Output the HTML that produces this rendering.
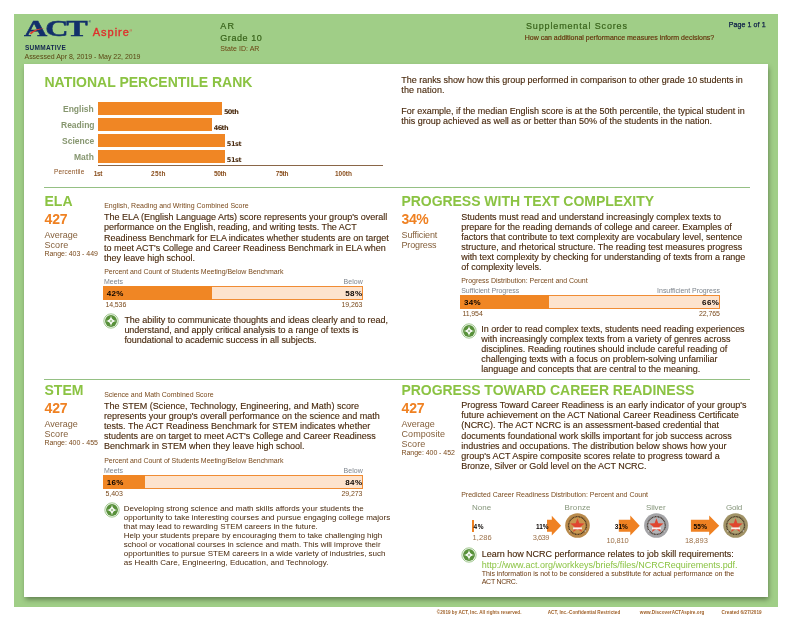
<!DOCTYPE html>
<html lang="en">
<head>
<meta charset="utf-8">
<title>ACT Aspire Supplemental Scores</title>
<style>
html,body{margin:0;padding:0;background:#fff;}
body{width:792px;height:622px;position:relative;overflow:hidden;font-family:"Liberation Sans",sans-serif;}
#frame{position:absolute;left:14px;top:14px;width:764px;height:592.5px;background:#a0ce87;}
#panel{position:absolute;left:24px;top:64px;width:744px;height:533px;background:#fff;box-shadow:0.6px 2.8px 5px rgba(20,30,10,.45);}
.t{position:absolute;white-space:pre;line-height:10px;height:10px;font-family:"Liberation Sans",sans-serif;}
.hr{position:absolute;left:44px;width:706px;height:1px;background:#95c084;}
.bar{position:absolute;height:12.5px;background:#f08624;}
.pb{position:absolute;box-sizing:border-box;width:260px;height:13.4px;background:#fde3cd;border:1.1px solid #f08c34;}
.pb i{position:absolute;left:-1.1px;top:-1.1px;height:13.4px;background:#f08624;display:block;}
svg{position:absolute;overflow:visible;}
#act{position:absolute;left:23.6px;top:15px;font:bold 23px/28px "Liberation Serif",serif;color:#12306b;transform-origin:0 0;transform:scaleX(1.40);white-space:pre;letter-spacing:-1.5px;-webkit-text-stroke:0.45px #12306b;}
.s{-webkit-text-stroke:0.12px currentColor;}
</style>
</head>
<body>
<div id="frame"></div>
<div id="panel"></div>

<!-- logo -->
<div id="act">ACT</div>
<svg width="30" height="12" style="left:28px;top:25px" viewBox="0 0 30 12"><path d="M1.5 8.2 C5 4.6 10 3.2 16.5 3.4 C11 4 6.5 5.6 3.2 9.2 Z" fill="#e23a2e"/></svg>

<!-- percentile chart -->
<div class="bar" style="left:98px;top:102.1px;width:124px"></div>
<div class="bar" style="left:98px;top:118.1px;width:114px"></div>
<div class="bar" style="left:98px;top:134.1px;width:126.7px"></div>
<div class="bar" style="left:98px;top:150.1px;width:126.7px"></div>
<div style="position:absolute;left:98px;top:164.8px;width:284.5px;height:1.1px;background:#8a6648"></div>

<!-- separators -->
<div class="hr" style="top:187px"></div>
<div class="hr" style="top:379px"></div>

<!-- progress bars -->
<div class="pb" style="left:103px;top:286.3px"><i style="width:109.4px"></i></div>
<div class="pb" style="left:103px;top:475.3px"><i style="width:41.8px"></i></div>
<div class="pb" style="left:460px;top:295.3px"><i style="width:88.6px"></i></div>

<!-- info icons -->

<svg width="16" height="16" style="left:103.4px;top:313.4px" viewBox="-8 -8 16 16"><g><circle r="7.15" fill="#fff" stroke="#6aa84f" stroke-width="0.65"/><circle r="5.95" fill="#58913a"/><path d="M0 -5.4 Q0.4 -0.4 5.4 0 Q0.4 0.4 0 5.4 Q-0.4 0.4 -5.4 0 Q-0.4 -0.4 0 -5.4Z" fill="#fff"/><path d="M0 -1.5 L1.5 0 L0 1.5 L-1.5 0Z" fill="#9cbf8b"/></g></svg>
<svg width="16" height="16" style="left:103.5px;top:502.1px" viewBox="-8 -8 16 16"><g><circle r="7.15" fill="#fff" stroke="#6aa84f" stroke-width="0.65"/><circle r="5.95" fill="#58913a"/><path d="M0 -5.4 Q0.4 -0.4 5.4 0 Q0.4 0.4 0 5.4 Q-0.4 0.4 -5.4 0 Q-0.4 -0.4 0 -5.4Z" fill="#fff"/><path d="M0 -1.5 L1.5 0 L0 1.5 L-1.5 0Z" fill="#9cbf8b"/></g></svg>
<svg width="16" height="16" style="left:460.7px;top:322.7px" viewBox="-8 -8 16 16"><g><circle r="7.15" fill="#fff" stroke="#6aa84f" stroke-width="0.65"/><circle r="5.95" fill="#58913a"/><path d="M0 -5.4 Q0.4 -0.4 5.4 0 Q0.4 0.4 0 5.4 Q-0.4 0.4 -5.4 0 Q-0.4 -0.4 0 -5.4Z" fill="#fff"/><path d="M0 -1.5 L1.5 0 L0 1.5 L-1.5 0Z" fill="#9cbf8b"/></g></svg>
<svg width="16" height="16" style="left:460.5px;top:547.2px" viewBox="-8 -8 16 16"><g><circle r="7.15" fill="#fff" stroke="#6aa84f" stroke-width="0.65"/><circle r="5.95" fill="#58913a"/><path d="M0 -5.4 Q0.4 -0.4 5.4 0 Q0.4 0.4 0 5.4 Q-0.4 0.4 -5.4 0 Q-0.4 -0.4 0 -5.4Z" fill="#fff"/><path d="M0 -1.5 L1.5 0 L0 1.5 L-1.5 0Z" fill="#9cbf8b"/></g></svg>

<!-- career readiness: arrows and medals -->
<div style="position:absolute;left:472px;top:519.8px;width:1.7px;height:12px;background:#ef8122"></div>
<svg width="792" height="622" style="left:0;top:0" viewBox="0 0 792 622">
<g fill="#ef8122">
<path d="M547 519.8H551.8V515.8L561.1 525.7L551.8 535.5V531.8H547Z"/>
<path d="M618.8 519.8H630.3V515.6L639.7 525.7L630.3 535.6V531.8H618.8Z"/>
<path d="M690.9 519.8H709.2V515.6L719.2 525.7L709.2 535.6V531.8H690.9Z"/>
</g>

<g transform="translate(577.5 525.5)"><circle r="12.3" fill="#b98a4b"/><circle r="8.2" fill="#c8964f"/><g><circle r="8.9" fill="none" stroke="#2e2014" stroke-opacity=".8" stroke-width="1.3" stroke-dasharray="1 0.55"/><path d="M0.00 -7.30 L1.82 -2.21 L7.23 -2.05 L2.95 1.26 L4.47 6.45 L0.00 3.40 L-4.47 6.45 L-2.95 1.26 L-7.23 -2.05 L-1.82 -2.21Z" fill="#e0452f"/><rect x="-4.4" y="1.9" width="8.8" height="1.9" fill="#fff" opacity=".92"/><circle cx="-7.7" cy="5.4" r=".65" fill="#fff" opacity=".85"/><circle cx="7.7" cy="5.4" r=".65" fill="#fff" opacity=".85"/></g></g>
<g transform="translate(656.4 525.5)"><circle r="12.3" fill="#a4a4a7"/><circle r="8.2" fill="#b3b3b6"/><g><circle r="8.9" fill="none" stroke="#2e2014" stroke-opacity=".8" stroke-width="1.3" stroke-dasharray="1 0.55"/><path d="M0.00 -7.30 L1.82 -2.21 L7.23 -2.05 L2.95 1.26 L4.47 6.45 L0.00 3.40 L-4.47 6.45 L-2.95 1.26 L-7.23 -2.05 L-1.82 -2.21Z" fill="#e0452f"/><rect x="-4.4" y="1.9" width="8.8" height="1.9" fill="#fff" opacity=".92"/><circle cx="-7.7" cy="5.4" r=".65" fill="#fff" opacity=".85"/><circle cx="7.7" cy="5.4" r=".65" fill="#fff" opacity=".85"/></g></g>
<g transform="translate(735.6 525.5)"><circle r="12.3" fill="#a19367"/><circle r="8.2" fill="#afa173"/><g><circle r="8.9" fill="none" stroke="#2e2014" stroke-opacity=".8" stroke-width="1.3" stroke-dasharray="1 0.55"/><path d="M0.00 -7.30 L1.82 -2.21 L7.23 -2.05 L2.95 1.26 L4.47 6.45 L0.00 3.40 L-4.47 6.45 L-2.95 1.26 L-7.23 -2.05 L-1.82 -2.21Z" fill="#e0452f"/><rect x="-4.4" y="1.9" width="8.8" height="1.9" fill="#fff" opacity=".92"/><circle cx="-7.7" cy="5.4" r=".65" fill="#fff" opacity=".85"/><circle cx="7.7" cy="5.4" r=".65" fill="#fff" opacity=".85"/></g></g>
</svg>

<div class="t" style="left:92.70px;top:27px;font-size:11px;letter-spacing:1.000px;color:#de2f2c;-webkit-text-stroke:0.35px #de2f2c">Aspire</div>
<div class="t" style="left:129.40px;top:26px;font-size:3.5px;color:#de2f2c">®</div>
<div class="t" style="left:88.60px;top:17px;font-size:3.2px;color:#12306b;font-weight:bold">®</div>
<div class="t" style="left:25.00px;top:43px;font-size:6.5px;letter-spacing:0.287px;color:#14264f;font-weight:bold">SUMMATIVE</div>
<div class="t" style="left:24.50px;top:52px;font-size:7px;letter-spacing:-0.024px;color:#5a4612">Assessed Apr 8, 2019 - May 22, 2019</div>
<div class="t" style="left:220.30px;top:21px;font-size:9px;letter-spacing:1.300px;color:#38631a;-webkit-text-stroke:0.2px #38631a">AR</div>
<div class="t" style="left:220.30px;top:33px;font-size:9px;letter-spacing:0.571px;color:#38631a;-webkit-text-stroke:0.2px #38631a">Grade 10</div>
<div class="t" style="left:220.30px;top:44px;font-size:7px;letter-spacing:0.055px;color:#6b4312">State ID: AR</div>
<div class="t" style="left:526.00px;top:21px;font-size:9px;letter-spacing:0.856px;color:#38631a;-webkit-text-stroke:0.2px #38631a">Supplemental Scores</div>
<div class="t" style="left:524.70px;top:33px;font-size:7px;color:#64300a;-webkit-text-stroke:0.15px #64300a">How can additional performance measures inform decisions?</div>
<div class="t" style="left:728.70px;top:20px;font-size:7px;letter-spacing:0.110px;color:#0c1d47;-webkit-text-stroke:0.25px #0c1d47">Page 1 of 1</div>
<div class="t" style="left:44.50px;top:77px;font-size:14px;color:#8bc343;font-weight:bold">NATIONAL PERCENTILE RANK</div>
<div class="t" style="left:63.00px;top:104px;font-size:8.5px;color:#86966f;font-weight:bold">English</div>
<div class="t" style="left:61.00px;top:120px;font-size:8.5px;color:#86966f;font-weight:bold">Reading</div>
<div class="t" style="left:62.00px;top:136px;font-size:8.5px;color:#86966f;font-weight:bold">Science</div>
<div class="t" style="left:74.00px;top:152px;font-size:8.5px;color:#86966f;font-weight:bold">Math</div>
<div class="t" style="left:224.00px;top:107px;font-size:6.5px;letter-spacing:-0.667px;color:#4a2a0e;font-weight:bold;font-family:'DejaVu Sans', sans-serif">50th</div>
<div class="t" style="left:213.80px;top:123px;font-size:6.5px;letter-spacing:-0.667px;color:#4a2a0e;font-weight:bold;font-family:'DejaVu Sans', sans-serif">46th</div>
<div class="t" style="left:226.70px;top:139px;font-size:6.5px;letter-spacing:-0.333px;color:#4a2a0e;font-weight:bold;font-family:'DejaVu Sans', sans-serif">51st</div>
<div class="t" style="left:226.70px;top:155px;font-size:6.5px;letter-spacing:-0.333px;color:#4a2a0e;font-weight:bold;font-family:'DejaVu Sans', sans-serif">51st</div>
<div class="t" style="left:54.00px;top:167px;font-size:6.5px;letter-spacing:0.156px;color:#8a4f1e">Percentile</div>
<div class="t" style="left:93.70px;top:169px;font-size:6.5px;letter-spacing:-0.350px;color:#8a4f1e;font-weight:bold">1st</div>
<div class="t" style="left:151.00px;top:169px;font-size:6.5px;letter-spacing:0.333px;color:#8a4f1e;font-weight:bold">25th</div>
<div class="t" style="left:213.90px;top:169px;font-size:6.5px;letter-spacing:-0.267px;color:#8a4f1e;font-weight:bold">50th</div>
<div class="t" style="left:275.80px;top:169px;font-size:6.5px;letter-spacing:-0.267px;color:#8a4f1e;font-weight:bold">75th</div>
<div class="t" style="left:335.00px;top:169px;font-size:6.5px;color:#8a4f1e;font-weight:bold">100th</div>
<div class="t s" style="left:401.30px;top:75px;font-size:9px;letter-spacing:-0.026px;color:#48280c">The ranks show how this group performed in comparison to other grade 10 students in</div>
<div class="t s" style="left:401.30px;top:85px;font-size:9px;letter-spacing:0.120px;color:#48280c">the nation.</div>
<div class="t s" style="left:401.30px;top:106px;font-size:9px;letter-spacing:-0.026px;color:#48280c">For example, if the median English score is at the 50th percentile, the typical student in</div>
<div class="t s" style="left:401.30px;top:116px;font-size:9px;letter-spacing:-0.019px;color:#48280c">this group achieved as well as or better than 50% of the students in the nation.</div>
<div class="t" style="left:44.50px;top:196px;font-size:14px;color:#8bc343;font-weight:bold">ELA</div>
<div class="t" style="left:44.50px;top:214px;font-size:14px;letter-spacing:-0.150px;color:#ef8122;font-weight:bold">427</div>
<div class="t" style="left:44.50px;top:230px;font-size:9px;color:#85603c">Average</div>
<div class="t" style="left:44.50px;top:240px;font-size:9px;letter-spacing:0.050px;color:#85603c">Score</div>
<div class="t" style="left:44.50px;top:249px;font-size:7px;letter-spacing:-0.047px;color:#7a4a1c">Range: 403 - 449</div>
<div class="t" style="left:104.20px;top:201px;font-size:7px;letter-spacing:0.007px;color:#7a4a1c">English, Reading and Writing Combined Score</div>
<div class="t s" style="left:104.00px;top:212px;font-size:9px;color:#48280c">The ELA (English Language Arts) score represents your group&#x27;s overall</div>
<div class="t s" style="left:104.00px;top:222px;font-size:9px;letter-spacing:-0.045px;color:#48280c">performance on the English, reading, and writing tests. The ACT</div>
<div class="t s" style="left:104.00px;top:233px;font-size:9px;letter-spacing:-0.007px;color:#48280c">Readiness Benchmark for ELA indicates whether students are on target</div>
<div class="t s" style="left:104.00px;top:243px;font-size:9px;letter-spacing:-0.008px;color:#48280c">to meet ACT&#x27;s College and Career Readiness Benchmark in ELA when</div>
<div class="t s" style="left:104.00px;top:253px;font-size:9px;letter-spacing:-0.027px;color:#48280c">they leave high school.</div>
<div class="t" style="left:104.20px;top:267px;font-size:7px;letter-spacing:-0.033px;color:#7a4a1c">Percent and Count of Students Meeting/Below Benchmark</div>
<div class="t" style="left:104.00px;top:277px;font-size:7px;color:#7d848c">Meets</div>
<div class="t" style="left:343.40px;top:277px;font-size:7px;letter-spacing:0.100px;color:#7d848c">Below</div>
<div class="t" style="left:106.70px;top:289px;font-size:8px;letter-spacing:0.350px;color:#0a0400;font-weight:bold">42%</div>
<div class="t" style="left:345.30px;top:289px;font-size:8px;letter-spacing:0.350px;color:#0a0400;font-weight:bold">58%</div>
<div class="t" style="left:105.40px;top:300px;font-size:7px;letter-spacing:-0.100px;color:#7a4a1c">14,536</div>
<div class="t" style="left:341.50px;top:300px;font-size:7px;letter-spacing:-0.100px;color:#7a4a1c">19,263</div>
<div class="t s" style="left:124.40px;top:315px;font-size:9px;letter-spacing:-0.015px;color:#48280c">The ability to communicate thoughts and ideas clearly and to read,</div>
<div class="t s" style="left:124.40px;top:325px;font-size:9px;letter-spacing:-0.023px;color:#48280c">understand, and apply critical analysis to a range of texts is</div>
<div class="t s" style="left:124.40px;top:335px;font-size:9px;letter-spacing:-0.040px;color:#48280c">foundational to academic success in all subjects.</div>
<div class="t" style="left:44.50px;top:385px;font-size:14px;color:#8bc343;font-weight:bold">STEM</div>
<div class="t" style="left:44.50px;top:403px;font-size:14px;letter-spacing:-0.150px;color:#ef8122;font-weight:bold">427</div>
<div class="t" style="left:44.50px;top:419px;font-size:9px;color:#85603c">Average</div>
<div class="t" style="left:44.50px;top:429px;font-size:9px;letter-spacing:0.050px;color:#85603c">Score</div>
<div class="t" style="left:44.50px;top:438px;font-size:7px;letter-spacing:-0.047px;color:#7a4a1c">Range: 400 - 455</div>
<div class="t" style="left:104.20px;top:390px;font-size:7px;letter-spacing:-0.023px;color:#7a4a1c">Science and Math Combined Score</div>
<div class="t s" style="left:104.00px;top:401px;font-size:9px;letter-spacing:0.031px;color:#48280c">The STEM (Science, Technology, Engineering, and Math) score</div>
<div class="t s" style="left:104.00px;top:411px;font-size:9px;letter-spacing:-0.018px;color:#48280c">represents your group&#x27;s overall performance on the science and math</div>
<div class="t s" style="left:104.00px;top:421px;font-size:9px;letter-spacing:0.015px;color:#48280c">tests. The ACT Readiness Benchmark for STEM indicates whether</div>
<div class="t s" style="left:104.00px;top:431px;font-size:9px;color:#48280c">students are on target to meet ACT&#x27;s College and Career Readiness</div>
<div class="t s" style="left:104.00px;top:441px;font-size:9px;color:#48280c">Benchmark in STEM when they leave high school.</div>
<div class="t" style="left:104.20px;top:456px;font-size:7px;letter-spacing:-0.033px;color:#7a4a1c">Percent and Count of Students Meeting/Below Benchmark</div>
<div class="t" style="left:104.00px;top:466px;font-size:7px;color:#7d848c">Meets</div>
<div class="t" style="left:343.40px;top:466px;font-size:7px;letter-spacing:0.100px;color:#7d848c">Below</div>
<div class="t" style="left:106.70px;top:478px;font-size:8px;letter-spacing:0.350px;color:#0a0400;font-weight:bold">16%</div>
<div class="t" style="left:345.30px;top:478px;font-size:8px;letter-spacing:0.350px;color:#0a0400;font-weight:bold">84%</div>
<div class="t" style="left:105.40px;top:489px;font-size:7px;color:#7a4a1c">5,403</div>
<div class="t" style="left:341.50px;top:489px;font-size:7px;letter-spacing:-0.100px;color:#7a4a1c">29,273</div>
<div class="t" style="left:123.80px;top:504px;font-size:8px;letter-spacing:0.011px;color:#48280c">Developing strong science and math skills affords your students the</div>
<div class="t" style="left:123.80px;top:513px;font-size:8px;color:#48280c">opportunity to take interesting courses and pursue engaging college majors</div>
<div class="t" style="left:123.80px;top:522px;font-size:8px;letter-spacing:-0.006px;color:#48280c">that may lead to rewarding STEM careers in the future.</div>
<div class="t" style="left:123.80px;top:531px;font-size:8px;letter-spacing:-0.019px;color:#48280c">Help your students prepare by encouraging them to take challenging high</div>
<div class="t" style="left:123.80px;top:540px;font-size:8px;letter-spacing:0.017px;color:#48280c">school or vocational courses in science and math. This will improve their</div>
<div class="t" style="left:123.80px;top:549px;font-size:8px;letter-spacing:0.010px;color:#48280c">opportunities to pursue STEM careers in a wide variety of industries, such</div>
<div class="t" style="left:123.80px;top:558px;font-size:8px;letter-spacing:0.041px;color:#48280c">as Health Care, Engineering, Education, and Technology.</div>
<div class="t" style="left:401.40px;top:196px;font-size:14px;letter-spacing:-0.032px;color:#8bc343;font-weight:bold">PROGRESS WITH TEXT COMPLEXITY</div>
<div class="t" style="left:401.50px;top:214px;font-size:14px;letter-spacing:-0.400px;color:#ef8122;font-weight:bold">34%</div>
<div class="t" style="left:401.50px;top:230px;font-size:9px;letter-spacing:-0.111px;color:#85603c">Sufficient</div>
<div class="t" style="left:401.50px;top:240px;font-size:9px;letter-spacing:-0.143px;color:#85603c">Progress</div>
<div class="t s" style="left:461.20px;top:212px;font-size:9px;letter-spacing:-0.013px;color:#48280c">Students must read and understand increasingly complex texts to</div>
<div class="t s" style="left:461.20px;top:222px;font-size:9px;letter-spacing:-0.018px;color:#48280c">prepare for the reading demands of college and career. Examples of</div>
<div class="t s" style="left:461.20px;top:232px;font-size:9px;letter-spacing:-0.021px;color:#48280c">factors that contribute to text complexity are vocabulary level, sentence</div>
<div class="t s" style="left:461.20px;top:242px;font-size:9px;letter-spacing:-0.006px;color:#48280c">structure, and rhetorical structure. The reading test measures progress</div>
<div class="t s" style="left:461.20px;top:252px;font-size:9px;letter-spacing:-0.021px;color:#48280c">with text complexity by checking for understanding of texts from a range</div>
<div class="t s" style="left:461.20px;top:262px;font-size:9px;letter-spacing:-0.010px;color:#48280c">of complexity levels.</div>
<div class="t" style="left:461.20px;top:276px;font-size:7px;letter-spacing:-0.021px;color:#7a4a1c">Progress Distribution: Percent and Count</div>
<div class="t" style="left:461.20px;top:286px;font-size:7px;letter-spacing:-0.028px;color:#7d848c">Sufficient Progress</div>
<div class="t" style="left:657.10px;top:286px;font-size:7px;letter-spacing:-0.025px;color:#7d848c">Insufficient Progress</div>
<div class="t" style="left:464.00px;top:298px;font-size:8px;letter-spacing:0.350px;color:#0a0400;font-weight:bold">34%</div>
<div class="t" style="left:702.10px;top:298px;font-size:8px;letter-spacing:0.350px;color:#0a0400;font-weight:bold">66%</div>
<div class="t" style="left:462.40px;top:309px;font-size:7px;letter-spacing:-0.100px;color:#7a4a1c">11,954</div>
<div class="t" style="left:699.00px;top:309px;font-size:7px;letter-spacing:-0.100px;color:#7a4a1c">22,765</div>
<div class="t s" style="left:481.30px;top:324px;font-size:9px;letter-spacing:-0.013px;color:#48280c">In order to read complex texts, students need reading experiences</div>
<div class="t s" style="left:481.30px;top:334px;font-size:9px;letter-spacing:-0.008px;color:#48280c">with increasingly complex texts from a variety of genres across</div>
<div class="t s" style="left:481.30px;top:344px;font-size:9px;letter-spacing:-0.013px;color:#48280c">disciplines. Reading routines should include careful reading of</div>
<div class="t s" style="left:481.30px;top:354px;font-size:9px;letter-spacing:-0.017px;color:#48280c">challenging texts with a focus on problem-solving unfamiliar</div>
<div class="t s" style="left:481.30px;top:364px;font-size:9px;letter-spacing:-0.021px;color:#48280c">language and concepts that are central to the meaning.</div>
<div class="t" style="left:401.40px;top:385px;font-size:14px;letter-spacing:-0.029px;color:#8bc343;font-weight:bold">PROGRESS TOWARD CAREER READINESS</div>
<div class="t" style="left:401.50px;top:403px;font-size:14px;letter-spacing:-0.150px;color:#ef8122;font-weight:bold">427</div>
<div class="t" style="left:401.50px;top:419px;font-size:9px;color:#85603c">Average</div>
<div class="t" style="left:401.50px;top:429px;font-size:9px;letter-spacing:0.062px;color:#85603c">Composite</div>
<div class="t" style="left:401.50px;top:439px;font-size:9px;letter-spacing:0.050px;color:#85603c">Score</div>
<div class="t" style="left:401.50px;top:448px;font-size:7px;letter-spacing:-0.047px;color:#7a4a1c">Range: 400 - 452</div>
<div class="t s" style="left:461.20px;top:400px;font-size:9px;letter-spacing:0.017px;color:#48280c">Progress Toward Career Readiness is an early indicator of your group&#x27;s</div>
<div class="t s" style="left:461.20px;top:410px;font-size:9px;color:#48280c">future achievement on the ACT National Career Readiness Certificate</div>
<div class="t s" style="left:461.20px;top:420px;font-size:9px;letter-spacing:-0.026px;color:#48280c">(NCRC). The ACT NCRC is an assessment-based credential that</div>
<div class="t s" style="left:461.20px;top:431px;font-size:9px;color:#48280c">documents foundational work skills important for job success across</div>
<div class="t s" style="left:461.20px;top:441px;font-size:9px;letter-spacing:-0.009px;color:#48280c">industries and occupations. The distribution below shows how your</div>
<div class="t s" style="left:461.20px;top:451px;font-size:9px;color:#48280c">group&#x27;s ACT Aspire composite scores relate to progress toward a</div>
<div class="t s" style="left:461.20px;top:461px;font-size:9px;letter-spacing:-0.048px;color:#48280c">Bronze, Silver or Gold level on the ACT NCRC.</div>
<div class="t" style="left:461.20px;top:490px;font-size:7px;letter-spacing:-0.005px;color:#7a4a1c">Predicted Career Readiness Distribution: Percent and Count</div>
<div class="t" style="left:472.00px;top:503px;font-size:8px;color:#85957a">None</div>
<div class="t" style="left:564.60px;top:503px;font-size:8px;letter-spacing:0.120px;color:#85957a">Bronze</div>
<div class="t" style="left:645.90px;top:503px;font-size:8px;letter-spacing:-0.060px;color:#85957a">Silver</div>
<div class="t" style="left:725.90px;top:503px;font-size:8px;letter-spacing:-0.200px;color:#85957a">Gold</div>
<div class="t" style="left:473.60px;top:522px;font-size:6.5px;letter-spacing:0.600px;color:#0a0400;font-weight:bold">4%</div>
<div class="t" style="left:536.00px;top:522px;font-size:6.5px;letter-spacing:-0.050px;color:#0a0400;font-weight:bold">11%</div>
<div class="t" style="left:614.80px;top:522px;font-size:6.5px;color:#0a0400;font-weight:bold">31%</div>
<div class="t" style="left:693.50px;top:522px;font-size:6.5px;letter-spacing:0.250px;color:#0a0400;font-weight:bold">55%</div>
<div class="t" style="left:472.60px;top:533px;font-size:7.5px;letter-spacing:0.100px;color:#9c7048">1,286</div>
<div class="t" style="left:532.80px;top:533px;font-size:7.5px;letter-spacing:-0.550px;color:#9c7048">3,639</div>
<div class="t" style="left:606.40px;top:536px;font-size:7.5px;letter-spacing:-0.120px;color:#9c7048">10,810</div>
<div class="t" style="left:684.90px;top:536px;font-size:7.5px;color:#9c7048">18,893</div>
<div class="t s" style="left:481.70px;top:549px;font-size:9px;letter-spacing:-0.010px;color:#48280c">Learn how NCRC performance relates to job skill requirements:</div>
<div class="t" style="left:481.70px;top:560px;font-size:9px;letter-spacing:-0.011px;color:#8bc343">http://www.act.org/workkeys/briefs/files/NCRCRequirements.pdf.</div>
<div class="t" style="left:481.70px;top:569px;font-size:7px;letter-spacing:-0.011px;color:#6b3a10">This information is not to be considered a substitute for actual performance on the</div>
<div class="t" style="left:481.70px;top:577px;font-size:7px;letter-spacing:-0.262px;color:#6b3a10">ACT NCRC.</div>
<div class="t" style="left:436.80px;top:608px;font-size:4.6px;letter-spacing:0.032px;color:#a0622a;font-weight:bold">©2019 by ACT, Inc. All rights reserved.</div>
<div class="t" style="left:547.70px;top:608px;font-size:4.6px;letter-spacing:0.041px;color:#a0622a;font-weight:bold">ACT, Inc.-Confidential Restricted</div>
<div class="t" style="left:639.80px;top:608px;font-size:4.6px;letter-spacing:0.050px;color:#a0622a;font-weight:bold">www.DiscoverACTAspire.org</div>
<div class="t" style="left:721.60px;top:608px;font-size:4.6px;letter-spacing:0.075px;color:#a0622a;font-weight:bold">Created 6/27/2019</div>
</body>
</html>
